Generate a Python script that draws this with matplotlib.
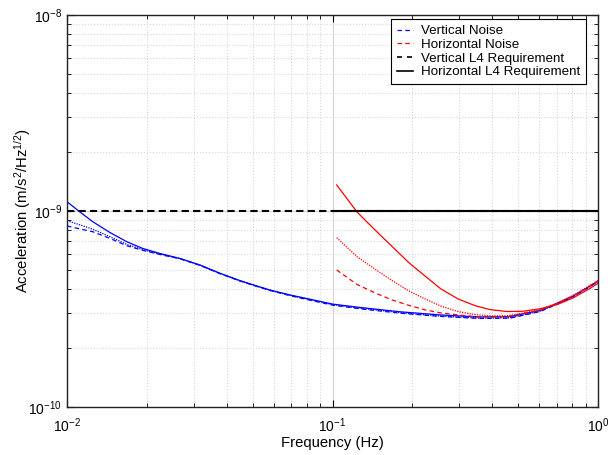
import matplotlib
matplotlib.use('Agg')
import matplotlib.pyplot as plt
from matplotlib.lines import Line2D
from matplotlib.ticker import NullFormatter

plt.rcParams['font.family'] = ['Liberation Sans', 'DejaVu Sans']
plt.rcParams['mathtext.fontset'] = 'custom'
plt.rcParams['mathtext.rm'] = 'Liberation Sans'
plt.rcParams['mathtext.it'] = 'Liberation Sans:italic'
plt.rcParams['mathtext.bf'] = 'Liberation Sans:bold'

# vertical noise (blue)
f_vert = [0.01, 0.0112, 0.0125, 0.0145, 0.0168, 0.0193, 0.0224, 0.0267, 0.0317,
          0.0377, 0.0449, 0.0511, 0.0582, 0.0692, 0.0845, 0.1, 0.127, 0.18, 0.254,
          0.359, 0.466, 0.53, 0.605, 0.70, 0.805, 0.933, 1.0]
vert_solid = [11.15, 9.88, 8.82, 7.77, 6.97, 6.44, 6.07, 5.72, 5.30, 4.81, 4.41,
              4.17, 3.95, 3.73, 3.52, 3.35, 3.22, 3.06, 2.95, 2.88, 2.89, 3.00,
              3.11, 3.38, 3.68, 4.14, 4.39]
vert_dotted = [8.92, 8.50, 8.07, 7.40, 6.76, 6.35, 6.03, 5.71, 5.29, 4.80, 4.40,
               4.16, 3.94, 3.71, 3.50, 3.33, 3.19, 3.03, 2.91, 2.84, 2.85, 2.96,
               3.08, 3.35, 3.66, 4.13, 4.38]
vert_dashed = [8.39, 8.10, 7.84, 7.25, 6.65, 6.30, 6.00, 5.70, 5.28, 4.79, 4.39,
               4.15, 3.93, 3.70, 3.48, 3.31, 3.17, 3.01, 2.90, 2.83, 2.84, 2.95,
               3.07, 3.34, 3.65, 4.12, 4.37]

# horizontal noise (red)
f_horz = [0.1037, 0.1237, 0.1446, 0.1675, 0.1925, 0.223, 0.2563, 0.297, 0.3441,
          0.392, 0.4542, 0.5218, 0.6046, 0.701, 0.805, 0.933, 1.0]
horz_solid = [13.58, 9.88, 8.00, 6.60, 5.50, 4.66, 4.00, 3.56, 3.29, 3.14, 3.07,
              3.08, 3.17, 3.33, 3.60, 4.03, 4.28]
horz_dotted = [7.31, 5.85, 5.05, 4.42, 3.93, 3.56, 3.27, 3.07, 2.96, 2.92, 2.92,
               3.01, 3.14, 3.39, 3.71, 4.17, 4.42]
horz_dashed = [5.00, 4.22, 3.82, 3.52, 3.31, 3.13, 3.02, 2.95, 2.89, 2.88, 2.89,
               3.00, 3.12, 3.37, 3.68, 4.14, 4.39]
scale = 1e-10  # all noise values above are in units of 1e-10

# requirements
f_req_vert = [0.01, 1.0]
req_vert = [1e-9, 1e-9]
f_req_horz = [0.1, 1.0]
req_horz = [1e-9, 1e-9]

labels = ['Vertical Noise', 'Horizontal Noise',
          'Vertical L4 Requirement', 'Horizontal L4 Requirement']

fig = plt.figure(figsize=(6.16, 4.55), dpi=100)
ax = fig.add_axes([67 / 616, 48 / 455, 531 / 616, 392 / 455])

def sc(vals):
    return [v * scale for v in vals]

short_dash = (0, (3.6, 2.7))
dots = (0, (1, 1))
ax.plot(f_vert, sc(vert_solid), color='#0000ff', lw=0.9)
ax.plot(f_vert, sc(vert_dotted), color='#0000ff', lw=0.9, ls=dots)
ax.plot(f_vert, sc(vert_dashed), color='#0000ff', lw=0.9, ls=short_dash)
ax.plot(f_horz, sc(horz_solid), color='#ff0000', lw=0.9)
ax.plot(f_horz, sc(horz_dotted), color='#ff0000', lw=0.9, ls=dots)
ax.plot(f_horz, sc(horz_dashed), color='#ff0000', lw=0.9, ls=short_dash)
ax.plot(f_req_vert, req_vert, color='k', lw=1.5, ls=(0, (3.5, 2)))
ax.plot(f_req_horz, req_horz, color='k', lw=1.5)

ax.set_xscale('log')
ax.set_yscale('log')
ax.set_xlim(0.01, 1)
ax.set_ylim(1e-10, 1e-8)
ax.xaxis.set_minor_formatter(NullFormatter())
ax.yaxis.set_minor_formatter(NullFormatter())

ax.grid(True, which='major', color='#d4d4d4', lw=0.8, ls='-')
ax.grid(True, which='minor', color='#d8d8d8', lw=0.8, ls=':')
ax.set_axisbelow(True)
ax.tick_params(which='both', direction='in', top=True, right=True,
               labelsize=10, colors='k')
ax.tick_params(which='major', length=5)
ax.tick_params(which='minor', length=3)
ax.tick_params(axis='x', which='major', pad=7)
for sp in ax.spines.values():
    sp.set_linewidth(1.0)
    sp.set_color('#222222')

ax.set_xlabel('Frequency (Hz)', fontsize=10.7, labelpad=0.5)
ax.set_ylabel(r'Acceleration (m/s$^{\mathdefault{2}}$/Hz$^{\mathdefault{1/2}}$)',
              fontsize=10.7, labelpad=-3)

handles = [Line2D([], [], color='#0000ff', lw=0.9, ls=short_dash),
           Line2D([], [], color='#ff0000', lw=0.9, ls=short_dash),
           Line2D([], [], color='k', lw=1.2, ls=(0, (3, 3))),
           Line2D([], [], color='k', lw=1.2)]
leg = ax.legend(handles, labels, loc='upper right',
                bbox_to_anchor=(586 / 616, 1 - 19 / 455),
                bbox_transform=fig.transFigure, borderaxespad=0,
                fontsize=9.6, frameon=True, fancybox=False, framealpha=1,
                edgecolor='k', handlelength=1.2, handletextpad=0.6,
                labelspacing=0.1, borderpad=0.45)
leg.get_frame().set_linewidth(0.8)

fig.savefig('out.png', dpi=100)
